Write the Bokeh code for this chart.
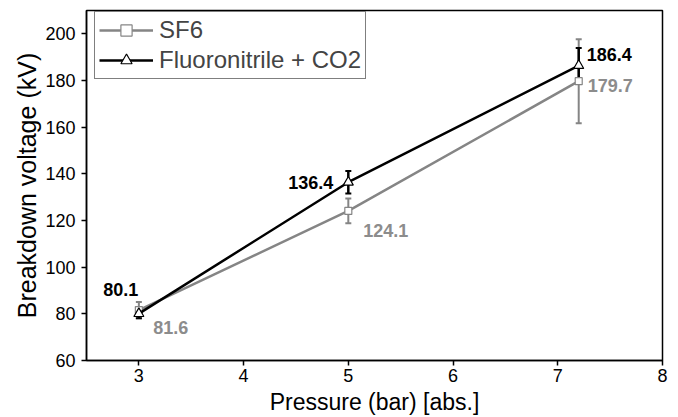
from bokeh.plotting import figure
from bokeh.models import ColumnDataSource, Whisker, TeeHead, Legend, LegendItem, FixedTicker, LabelSet, Range1d
from bokeh.core.properties import value
from bokeh.embed import file_html
from bokeh.resources import INLINE

pressure = [3, 5, 7.2]
sf6 = [81.6, 124.1, 179.7]
sf6_err = [3.5, 5.3, 18.0]
fluoro = [80.1, 136.4, 186.4]
fluoro_err = [2.0, 4.8, 7.5]
x_ticks = [3, 4, 5, 6, 7, 8]
y_ticks = [60, 80, 100, 120, 140, 160, 180, 200]

GRAY = "#858585"
LGRAY = "#8c8c8c"
FONT = "Liberation Sans"

p = figure(frame_width=576, frame_height=350, output_backend="svg", toolbar_location=None,
           x_range=Range1d(2.5, 8), y_range=Range1d(60, 210),
           min_border_left=86, min_border_right=16, min_border_top=10, min_border_bottom=40)
p.xgrid.visible = False
p.ygrid.visible = False
p.outline_line_color = "black"
p.outline_line_width = 1.5
p.background_fill_color = "white"
p.border_fill_color = "white"

for ax in (p.xaxis[0], p.yaxis[0]):
    ax.axis_line_color = "black"
    ax.axis_line_width = 1.5
    ax.major_tick_line_color = "black"
    ax.major_tick_line_width = 1.5
    ax.major_tick_out = 5
    ax.major_tick_in = 0
    ax.minor_tick_line_color = None
    ax.major_label_text_font = FONT
    ax.major_label_text_font_size = "18px"
    ax.major_label_text_color = "black"
    ax.axis_label_text_font = FONT
    ax.axis_label_text_font_style = "normal"
    ax.axis_label_text_color = "black"

p.xaxis[0].ticker = FixedTicker(ticks=x_ticks)
p.yaxis[0].ticker = FixedTicker(ticks=y_ticks)
p.xaxis[0].axis_label = "Pressure (bar) [abs.]"
p.yaxis[0].axis_label = "Breakdown voltage (kV)"
p.xaxis[0].axis_label_text_font_size = "23px"
p.yaxis[0].axis_label_text_font_size = "25px"
p.xaxis[0].major_label_standoff = 3
p.yaxis[0].major_label_standoff = 6
p.xaxis[0].axis_label_standoff = 4
p.yaxis[0].axis_label_standoff = 1

src_s = ColumnDataSource(dict(x=pressure, y=sf6,
                              lo=[v - e for v, e in zip(sf6, sf6_err)],
                              hi=[v + e for v, e in zip(sf6, sf6_err)],
                              t=[f"{v:.1f}" for v in sf6]))
src_f = ColumnDataSource(dict(x=pressure, y=fluoro,
                              lo=[v - e for v, e in zip(fluoro, fluoro_err)],
                              hi=[v + e for v, e in zip(fluoro, fluoro_err)],
                              t=[f"{v:.1f}" for v in fluoro]))

w_s = Whisker(source=src_s, base="x", lower="lo", upper="hi", line_color=GRAY, line_width=2,
              upper_head=TeeHead(size=6, line_color=GRAY, line_width=2),
              lower_head=TeeHead(size=6, line_color=GRAY, line_width=2))
p.add_layout(w_s)
l_s = p.line("x", "y", source=src_s, line_color=GRAY, line_width=2.5)
m_s = p.scatter("x", "y", source=src_s, marker="square", size=7, fill_color="white",
                line_color=GRAY, line_width=1.2)

w_f = Whisker(source=src_f, base="x", lower="lo", upper="hi", line_color="black", line_width=2.5,
              upper_head=TeeHead(size=6, line_color="black", line_width=2),
              lower_head=TeeHead(size=6, line_color="black", line_width=2))
p.add_layout(w_f)
l_f = p.line("x", "y", source=src_f, line_color="black", line_width=2.5)
m_f = p.scatter("x", "y", source=src_f, marker="triangle", size=10, fill_color="white",
                line_color="black", line_width=1.2)

def add_label(d, idx, color, align, dx, dy):
    s = ColumnDataSource(dict(x=[d["x"][idx]], y=[d["y"][idx]], t=[d["t"][idx]]))
    ls = LabelSet(x="x", y="y", text="t", source=s, x_offset=dx, y_offset=dy,
                  text_font=value(FONT), text_font_size=value("18px"), text_font_style="bold",
                  text_color=color, text_align=align, text_baseline="middle")
    p.add_layout(ls)

fd = src_f.data
sd = src_s.data
add_label(fd, 0, "black", "center", -18, 24)
add_label(sd, 0, LGRAY, "center", 32, -17)
add_label(fd, 1, "black", "right", -15, 0)
add_label(sd, 1, LGRAY, "left", 15, -20)
add_label(fd, 2, "black", "left", 8, 11)
add_label(sd, 2, LGRAY, "left", 9, -4)

legend = Legend(items=[LegendItem(label="SF6", renderers=[l_s, m_s]),
                       LegendItem(label="Fluoronitrile + CO2", renderers=[l_f, m_f])],
                location=(8, 281))
legend.label_text_font = FONT
legend.label_text_font_size = "24px"
legend.border_line_color = "black"
legend.border_line_width = 1.2
legend.glyph_width = 54
legend.glyph_height = 28
legend.spacing = 2
legend.padding = 4
legend.margin = 0
legend.label_standoff = 6
p.add_layout(legend)

open("out.html", "w").write(file_html(p, INLINE))
